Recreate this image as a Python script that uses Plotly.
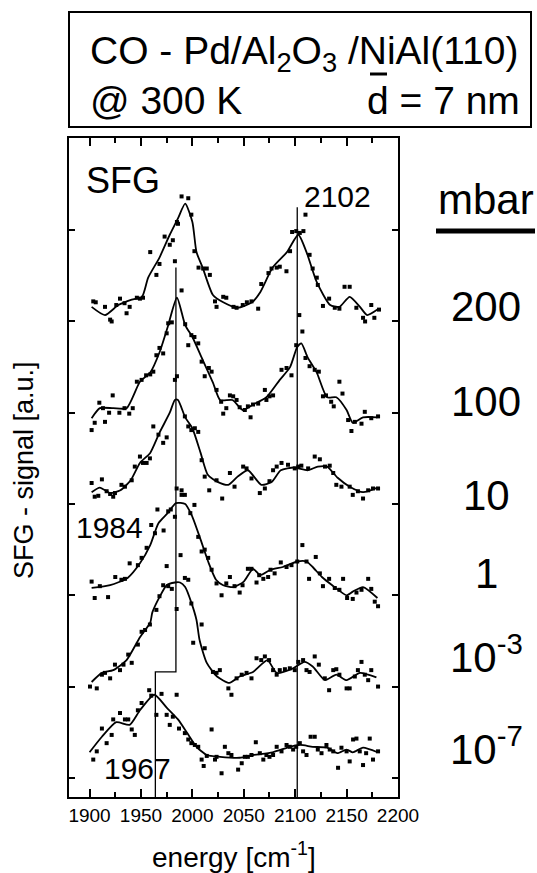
import plotly.graph_objects as go

# ---------------- data ----------------
pressure_labels = ["200", "100", "10", "1", "10<sup>-3</sup>", "10<sup>-7</sup>"]

# fitted lines (energy, offset signal)
line_200_x = [1902, 1915, 1928, 1941, 1951, 1957, 1968, 1978, 1986, 1993, 2000, 2004, 2010, 2020, 2030, 2044, 2058, 2066, 2078, 2092, 2103, 2111, 2121, 2134, 2143, 2153, 2163, 2170, 2180]
line_200_y = [5.16, 5.07, 5.18, 5.24, 5.27, 5.48, 5.70, 5.95, 6.13, 6.29, 6.09, 5.76, 5.59, 5.29, 5.21, 5.15, 5.21, 5.32, 5.59, 5.76, 5.95, 5.76, 5.43, 5.18, 5.16, 5.27, 5.16, 5.07, 5.13]

line_100_x = [1902, 1910, 1923, 1936, 1949, 1959, 1968, 1976, 1985, 1993, 2000, 2010, 2020, 2027, 2039, 2049, 2059, 2072, 2085, 2095, 2102, 2106, 2112, 2121, 2131, 2140, 2150, 2156, 2166, 2180]
line_100_y = [3.94, 4.05, 4.05, 4.05, 4.34, 4.44, 4.66, 4.94, 5.26, 4.96, 4.83, 4.58, 4.33, 4.14, 4.14, 4.03, 4.09, 4.17, 4.36, 4.50, 4.72, 4.76, 4.61, 4.44, 4.17, 4.17, 4.03, 3.89, 3.95, 3.95]

line_10_x = [1902, 1910, 1920, 1930, 1940, 1949, 1959, 1968, 1978, 1983, 1986, 1993, 2000, 2008, 2015, 2025, 2035, 2044, 2054, 2067, 2077, 2086, 2099, 2112, 2122, 2131, 2141, 2153, 2166, 2180]
line_10_y = [3.13, 3.18, 3.12, 3.15, 3.26, 3.45, 3.56, 3.78, 4.00, 4.14, 4.14, 3.95, 3.83, 3.56, 3.32, 3.24, 3.21, 3.30, 3.37, 3.21, 3.24, 3.37, 3.40, 3.37, 3.41, 3.41, 3.29, 3.19, 3.13, 3.18]

line_1_x = [1902, 1920, 1937, 1949, 1959, 1967, 1976, 1984, 1993, 2000, 2008, 2016, 2023, 2030, 2040, 2050, 2059, 2066, 2076, 2088, 2102, 2111, 2117, 2126, 2136, 2150, 2156, 2166, 2180]
line_1_y = [2.08, 2.11, 2.19, 2.35, 2.55, 2.79, 2.90, 3.01, 3.00, 2.86, 2.61, 2.35, 2.17, 2.11, 2.09, 2.15, 2.29, 2.22, 2.28, 2.31, 2.37, 2.37, 2.31, 2.20, 2.11, 2.00, 2.04, 2.09, 1.97]

line_1e3_x = [1902, 1912, 1923, 1936, 1949, 1959, 1961, 1968, 1975, 1983, 1988, 1993, 1999, 2004, 2007, 2014, 2024, 2036, 2046, 2059, 2073, 2082, 2098, 2109, 2117, 2129, 2140, 2150, 2163, 2179]
line_1e3_y = [1.05, 1.15, 1.18, 1.29, 1.54, 1.70, 1.81, 1.98, 2.11, 2.14, 2.14, 2.09, 1.92, 1.73, 1.51, 1.26, 1.11, 1.04, 1.11, 1.16, 1.29, 1.15, 1.20, 1.27, 1.22, 1.07, 1.13, 1.07, 1.15, 1.10]

line_1e7_x = [1900, 1912, 1926, 1939, 1949, 1963, 1975, 1986, 1995, 2004, 2014, 2027, 2046, 2059, 2078, 2095, 2105, 2117, 2131, 2141, 2150, 2156, 2166, 2180]
line_1e7_y = [0.28, 0.45, 0.61, 0.58, 0.74, 0.91, 0.77, 0.64, 0.49, 0.34, 0.25, 0.23, 0.22, 0.25, 0.28, 0.34, 0.36, 0.34, 0.33, 0.27, 0.31, 0.28, 0.33, 0.28]

# measured points
pts_200_x = [1903.6, 1906, 1915, 1920, 1921.5, 1926, 1929.6, 1934, 1936, 1939, 1946, 1949, 1952, 1959, 1965, 1968, 1973, 1978, 1981, 1983, 1985, 1986, 1989.5, 1996, 1999, 2002, 2006, 2010.5, 2014, 2017, 2022, 2023.5, 2030, 2033, 2040, 2043, 2049, 2053, 2057.5, 2064, 2067, 2074, 2077, 2082, 2085, 2091.5, 2095, 2097, 2101, 2104.5, 2108, 2110, 2114, 2117, 2121, 2122, 2127, 2133, 2138.5, 2143, 2148, 2153, 2159.5, 2166, 2168, 2174, 2177, 2181.5]
pts_200_y = [5.22, 5.21, 5.16, 5.02, 5.00, 5.18, 5.25, 5.20, 5.09, 5.16, 5.26, 5.25, 5.26, 5.76, 5.51, 5.63, 5.93, 5.84, 5.89, 5.66, 6.09, 6.07, 6.37, 6.35, 6.17, 5.77, 5.59, 5.58, 5.58, 5.51, 5.22, 5.16, 5.27, 5.26, 5.16, 5.15, 5.18, 5.21, 5.22, 5.14, 5.41, 5.53, 5.58, 5.59, 5.60, 5.55, 5.77, 5.98, 5.99, 5.97, 5.99, 6.17, 5.73, 5.58, 5.48, 5.40, 5.17, 5.25, 5.15, 5.14, 5.38, 5.38, 5.15, 5.04, 5.00, 5.18, 5.04, 5.13]

pts_100_x = [1902, 1905, 1909.5, 1913, 1915, 1919, 1922.5, 1929, 1934, 1938.6, 1942, 1946, 1950.6, 1955, 1959, 1962, 1965, 1968, 1971.6, 1975, 1976.5, 1980, 1983, 1985, 1989.5, 1993, 1996, 1999, 2002, 2005.7, 2009, 2012, 2016, 2018.7, 2023.5, 2028, 2030, 2033, 2036.5, 2039.7, 2043, 2046, 2051, 2054, 2056.6, 2059, 2064, 2070.5, 2072, 2075, 2078.5, 2086.7, 2091.6, 2096.4, 2101, 2104, 2107, 2110, 2114, 2119, 2123, 2127, 2130, 2135, 2137.5, 2143, 2146, 2151.5, 2154.7, 2158, 2164.5, 2167.7, 2174, 2180.6]
pts_100_y = [3.81, 3.89, 4.11, 4.05, 3.90, 4.00, 4.19, 4.00, 4.05, 3.99, 4.05, 4.34, 4.36, 4.41, 4.42, 4.45, 4.63, 4.71, 4.65, 4.87, 4.98, 4.99, 4.36, 4.40, 5.34, 4.97, 4.74, 4.85, 4.83, 4.76, 4.56, 4.40, 4.49, 4.45, 4.25, 4.12, 3.99, 4.05, 4.19, 4.18, 4.14, 4.06, 4.03, 4.07, 3.95, 4.09, 4.10, 4.25, 4.14, 4.18, 4.19, 4.47, 4.49, 4.41, 4.74, 5.07, 4.89, 4.60, 4.51, 4.47, 4.45, 4.18, 4.19, 4.12, 4.07, 4.34, 4.21, 3.92, 3.80, 3.90, 3.88, 4.01, 3.94, 3.96]

pts_10_x = [1902, 1905, 1908.5, 1912, 1916.6, 1920, 1923, 1924.7, 1931, 1934.4, 1941, 1944, 1949, 1952, 1955.5, 1958.7, 1962, 1967, 1971.6, 1975, 1984.7, 1989.5, 1992.7, 1996, 1999, 2002.4, 2005.7, 2009, 2012, 2016.4, 2023.5, 2029, 2036.5, 2041, 2049.4, 2052.7, 2057.5, 2065.6, 2070.5, 2075, 2078.5, 2082, 2086.7, 2093, 2099.6, 2103, 2106, 2112.6, 2119, 2124, 2129, 2133.6, 2137, 2140, 2145, 2153, 2156, 2161, 2166, 2171, 2175.7, 2180.6]
pts_10_y = [3.23, 3.08, 3.09, 3.27, 3.14, 3.11, 3.08, 3.12, 3.21, 3.19, 3.26, 3.41, 3.52, 3.45, 3.45, 3.50, 3.85, 3.76, 3.67, 3.73, 3.17, 3.10, 3.96, 3.85, 3.81, 3.83, 3.79, 3.48, 3.30, 3.15, 3.26, 3.06, 3.34, 3.19, 3.41, 3.39, 3.28, 3.12, 3.17, 3.25, 3.37, 3.41, 3.45, 3.43, 3.39, 3.41, 3.42, 3.39, 3.52, 3.49, 3.41, 3.42, 3.34, 3.21, 3.19, 3.19, 3.10, 3.14, 3.06, 3.15, 3.17, 3.17]

pts_1_x = [1902, 1905, 1910, 1918, 1925, 1931, 1934.4, 1939, 1947, 1950.6, 1955.5, 1960, 1963.6, 1966, 1972, 1975, 1976.5, 1979, 1983, 1988.5, 1989.5, 1992.7, 1998, 2002, 2005.7, 2009, 2012, 2015.4, 2018.7, 2023.5, 2028.4, 2033, 2036.5, 2041, 2046, 2048.8, 2054, 2057.5, 2062.4, 2065, 2069, 2073.7, 2076, 2080, 2086, 2091.6, 2096.4, 2102, 2107, 2111, 2113.5, 2120, 2124, 2127, 2133, 2138.5, 2143, 2146.6, 2150.5, 2156, 2159.6, 2164.5, 2171, 2174, 2177.4, 2180.6]
pts_1_y = [2.15, 1.97, 2.10, 1.98, 2.20, 2.17, 2.18, 2.35, 2.33, 2.41, 2.52, 2.77, 2.68, 2.94, 2.71, 2.32, 2.92, 2.94, 2.86, 2.44, 3.15, 3.10, 2.90, 2.99, 2.64, 2.48, 2.50, 2.41, 2.28, 2.13, 2.00, 2.13, 2.20, 2.10, 2.03, 2.11, 2.29, 2.29, 2.14, 2.22, 2.18, 2.20, 2.28, 2.24, 2.36, 2.31, 2.33, 2.37, 2.55, 2.37, 2.18, 2.42, 2.24, 2.10, 2.18, 2.08, 2.06, 2.18, 1.97, 1.96, 2.03, 2.06, 2.18, 2.07, 1.93, 1.88]

pts_1e3_x = [1900.4, 1907, 1912, 1915, 1920, 1924.7, 1929.6, 1933, 1937.6, 1941, 1947, 1950.6, 1954, 1958.7, 1965, 1968, 1971.6, 1976.5, 1980, 1984.7, 1992.7, 1996, 1999, 2000.8, 2009, 2012, 2020, 2023.5, 2026.7, 2035, 2038, 2043, 2048, 2052.7, 2057.5, 2062.4, 2067, 2070.5, 2074.6, 2078.5, 2082, 2085, 2090, 2094.8, 2099.6, 2103, 2107.7, 2111, 2114, 2119, 2123, 2128.8, 2133, 2137, 2140, 2143, 2150, 2153, 2158, 2161, 2164.5, 2167.7, 2171, 2174, 2180.6]
pts_1e3_y = [1.00, 0.98, 1.13, 1.15, 1.09, 1.24, 1.18, 1.24, 1.35, 1.26, 1.46, 1.60, 1.62, 1.68, 1.84, 1.99, 2.11, 2.10, 2.07, 1.85, 2.19, 2.17, 1.91, 1.48, 1.68, 1.42, 1.16, 1.15, 1.18, 0.98, 0.91, 1.09, 1.13, 1.15, 1.09, 1.31, 1.29, 1.33, 1.29, 1.18, 1.13, 1.18, 1.19, 1.20, 1.18, 1.27, 1.29, 1.18, 1.16, 1.33, 1.24, 1.09, 0.96, 1.18, 1.19, 1.13, 0.98, 0.98, 1.11, 1.18, 1.27, 1.13, 1.07, 1.18, 1.00]

pts_1e7_x = [1903.6, 1907, 1912, 1916.6, 1921.5, 1923, 1929.6, 1934.4, 1937.6, 1941, 1944, 1947, 1950.6, 1958, 1960, 1965, 1970, 1975, 1978, 1981, 1984.7, 1987, 1992.7, 1996, 1999, 2002.4, 2005.7, 2009, 2011, 2014, 2018.7, 2022, 2023.5, 2028.4, 2031.6, 2035, 2038, 2044.5, 2048, 2051, 2054, 2057.5, 2061.7, 2065.6, 2069, 2072, 2075, 2078.5, 2082, 2086.7, 2091.6, 2094.8, 2098, 2101, 2104.5, 2107.7, 2111, 2115, 2119, 2122, 2125.6, 2130.4, 2133.6, 2137, 2141.7, 2145, 2150, 2153, 2156.3, 2159.6, 2162.8, 2166, 2169, 2172.5, 2175.7, 2180.6]
pts_1e7_y = [0.20, 0.29, 0.54, 0.38, 0.47, 0.64, 0.71, 0.64, 0.64, 0.53, 0.47, 0.74, 0.82, 0.96, 0.90, 0.69, 0.92, 0.69, 0.58, 0.67, 0.91, 0.54, 0.49, 0.42, 0.38, 0.36, 0.34, 0.20, 0.13, 0.24, 0.53, 0.20, 0.23, 0.05, 0.34, 0.27, 0.25, 0.09, 0.16, 0.23, 0.23, 0.25, 0.39, 0.27, 0.20, 0.25, 0.23, 0.25, 0.34, 0.29, 0.36, 0.34, 0.31, 0.34, 0.38, 0.29, 0.25, 0.45, 0.45, 0.31, 0.27, 0.36, 0.31, 0.29, 0.11, 0.33, 0.29, 0.18, 0.42, 0.43, 0.29, 0.14, 0.27, 0.43, 0.20, 0.29]

# peak marker lines
step_line_x = [1964, 1964, 1984, 1984]
step_line_y = [-0.21, 1.16, 1.16, 5.59]
line_2102_x = [2102, 2102]
line_2102_y = [-0.21, 6.25]

x_tickvals = [1900, 1950, 2000, 2050, 2100, 2150, 2200]
x_minorvals = [1925, 1975, 2025, 2075, 2125, 2175]
y_tickvals = [0, 1, 2, 3, 4, 5, 6]

# ---------------- figure ----------------
FONT = "Liberation Sans, Arial, Helvetica, sans-serif"
W, H = 537, 873
PL, PR, PT, PB = 69, 398, 138, 797   # plot frame in window pixels


def fx(px):
    return (px - PL) / (PR - PL)


def fy(py):
    return (PB - py) / (PB - PT)


fig = go.Figure()

series = [
    (line_200_x, line_200_y, pts_200_x, pts_200_y),
    (line_100_x, line_100_y, pts_100_x, pts_100_y),
    (line_10_x, line_10_y, pts_10_x, pts_10_y),
    (line_1_x, line_1_y, pts_1_x, pts_1_y),
    (line_1e3_x, line_1e3_y, pts_1e3_x, pts_1e3_y),
    (line_1e7_x, line_1e7_y, pts_1e7_x, pts_1e7_y),
]
for lx, ly, px_, py_ in series:
    fig.add_trace(go.Scatter(x=px_, y=py_, mode="markers",
                             marker=dict(symbol="square", size=4, color="black"),
                             showlegend=False, hoverinfo="skip"))
    fig.add_trace(go.Scatter(x=lx, y=ly, mode="lines",
                             line=dict(color="black", width=1.8, shape="spline", smoothing=0.6),
                             showlegend=False, hoverinfo="skip"))

fig.add_trace(go.Scatter(x=step_line_x, y=step_line_y, mode="lines",
                         line=dict(color="black", width=1.3), showlegend=False, hoverinfo="skip"))
fig.add_trace(go.Scatter(x=line_2102_x, y=line_2102_y, mode="lines",
                         line=dict(color="black", width=1.3), showlegend=False, hoverinfo="skip"))

fig.update_layout(
    width=W, height=H,
    margin=dict(l=PL, r=W - PR, t=PT, b=H - PB, pad=0),
    paper_bgcolor="white", plot_bgcolor="white",
    font=dict(family=FONT, color="black"),
    showlegend=False,
    xaxis=dict(range=[1880, 2200], tickvals=x_tickvals, ticktext=[str(v) for v in x_tickvals],
               ticks="inside", ticklen=8, tickwidth=1.5, tickcolor="black",
               minor=dict(tickvals=x_minorvals, ticks="inside", ticklen=5, tickwidth=1.5, tickcolor="black"),
               showline=True, linewidth=2, linecolor="black", mirror="allticks",
               showgrid=False, zeroline=False, tickfont=dict(size=19, family=FONT)),
    yaxis=dict(range=[-0.21, 7.01], tickvals=y_tickvals, showticklabels=False,
               ticks="inside", ticklen=6, tickwidth=1.5, tickcolor="black",
               showline=True, linewidth=2, linecolor="black", mirror="allticks",
               showgrid=False, zeroline=False),
)

ann = []


def add_text(text, px, py, size, xanchor="center", yanchor="middle", angle=0):
    ann.append(dict(text=text, x=fx(px), y=fy(py), xref="paper", yref="paper",
                    xanchor=xanchor, yanchor=yanchor, showarrow=False, textangle=angle,
                    font=dict(size=size, family=FONT, color="black")))


# header box
fig.add_shape(type="rect", xref="paper", yref="paper", x0=fx(69), x1=fx(531), y0=fy(127), y1=fy(12),
              line=dict(color="black", width=2))
add_text("CO - Pd/Al<sub>2</sub>O<sub>3</sub> /NiAl(110)", 88, 54, 39, xanchor="left")
add_text("@ 300 K", 88, 100, 39, xanchor="left")
add_text("d = 7 nm", 522, 100, 39, xanchor="right")
fig.add_shape(type="line", xref="paper", yref="paper", x0=fx(370), x1=fx(387), y0=fy(74), y1=fy(74),
              line=dict(color="black", width=3))

# in-plot labels
add_text("SFG", 123, 180, 36)
add_text("2102", 337, 196, 30)
add_text("1984", 109, 527, 30)
add_text("1967", 137, 768, 30)

# pressure column
add_text("mbar", 486, 199, 42)
fig.add_shape(type="line", xref="paper", yref="paper", x0=fx(436), x1=fx(535), y0=fy(231), y1=fy(231),
              line=dict(color="black", width=5))
for lab, py in zip(pressure_labels, [306, 401, 495, 573, 654, 746]):
    add_text(lab, 486, py, 42)

# axis titles
add_text("SFG - signal [a.u.]", 24, 470, 27, angle=-90)
add_text("energy [cm<sup>-1</sup>]", 234, 855, 28)

fig.update_layout(annotations=ann)
fig.write_html("out.html",
               config={"displayModeBar": False},
               post_script="document.body.style.margin='0px';document.body.style.overflow='hidden';")
